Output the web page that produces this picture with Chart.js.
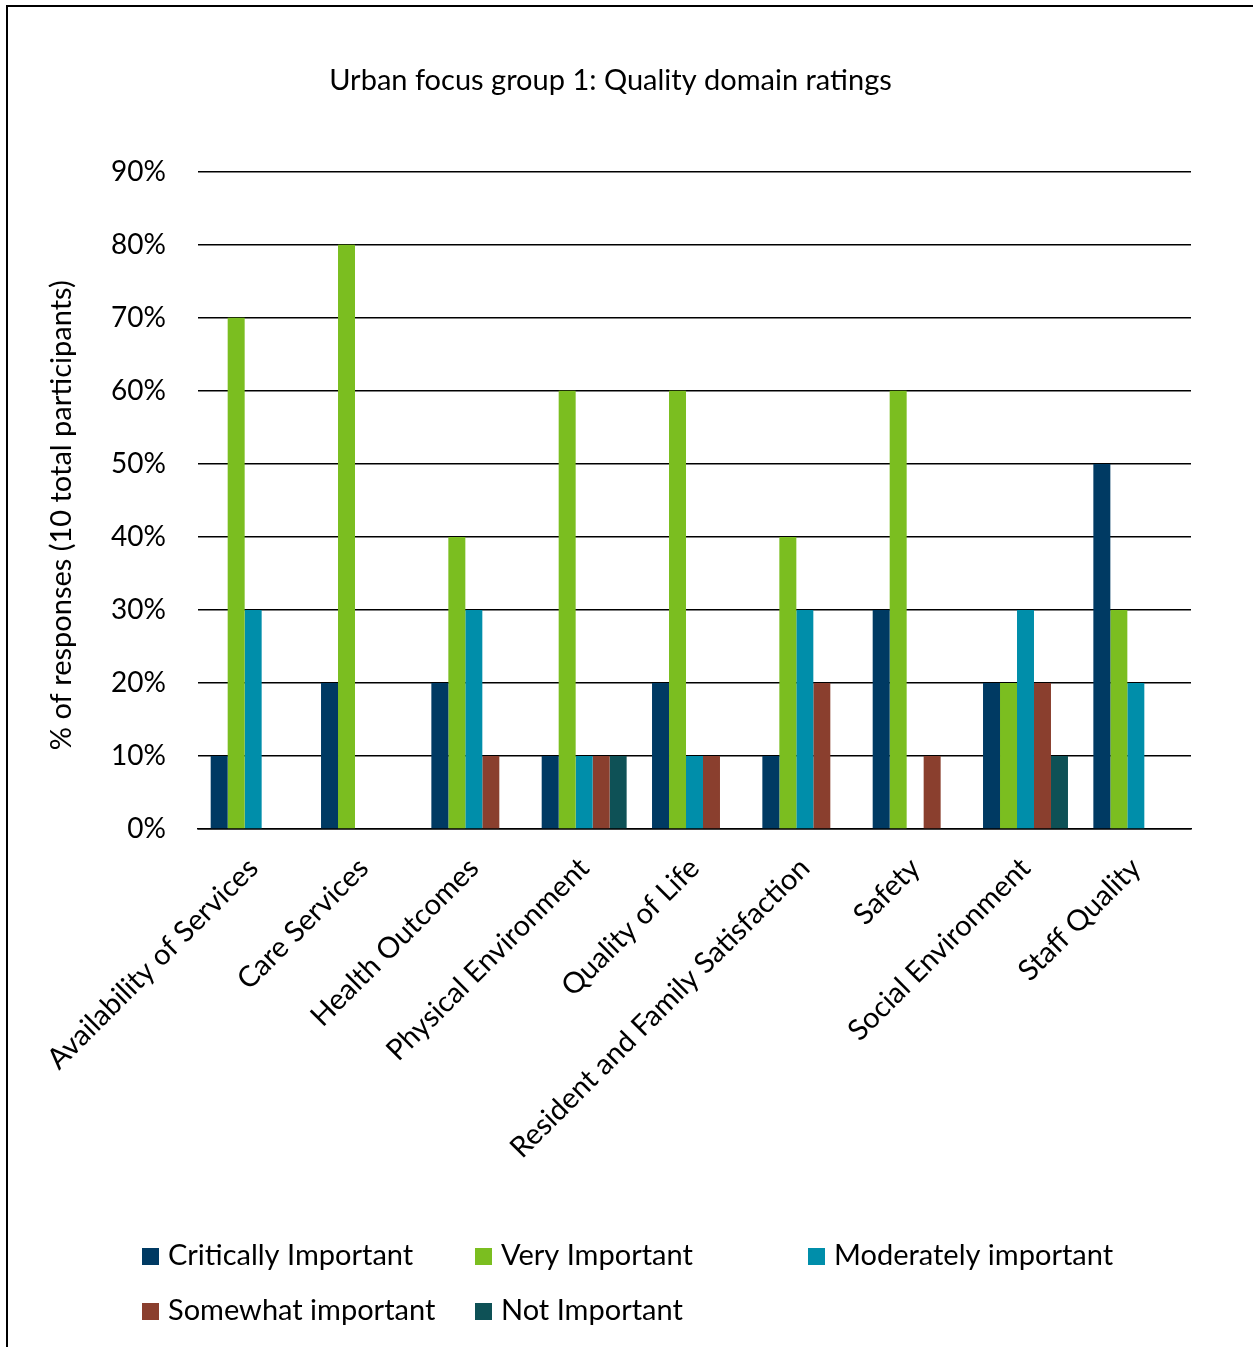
<!DOCTYPE html>
<html>
<head>
<meta charset="utf-8">
<script src="https://cdn.jsdelivr.net/npm/chart.js@4.4.1/dist/chart.umd.min.js"></script>
<style>
    html, body { margin: 0; padding: 0; background: #fff; }
    #wrap { position: relative; width: 1253px; height: 1347px; }
    #frameTop { position: absolute; left: 6px; top: 5px; width: 1247px; height: 2px; background: #000; }
    #frameLeft { position: absolute; left: 6px; top: 5px; width: 2px; height: 1342px; background: #000; }
    canvas { position: absolute; left: 0; top: 0; }
</style>
</head>
<body>
<div id="wrap">
    <canvas id="qualityChart" width="1253" height="1347"></canvas>
    <div id="frameTop"></div>
    <div id="frameLeft"></div>
</div>
<script>
// Dados
const domains = ['Availability of Services', 'Care Services', 'Health Outcomes', 'Physical Environment',
    'Quality of Life', 'Resident and Family Satisfaction', 'Safety', 'Social Environment', 'Staff Quality'];
const critically = [10, 20, 20, 10, 20, 10, 30, 20, 50];
const veryImportant = [70, 80, 40, 60, 60, 40, 60, 20, 30];
const moderately = [30, 0, 30, 10, 10, 30, 0, 30, 20];
const somewhat = [0, 0, 10, 10, 10, 20, 10, 20, 0];
const notImportant = [0, 0, 0, 10, 0, 0, 0, 10, 0];
const yTicks = [0, 10, 20, 30, 40, 50, 60, 70, 80, 90];

const FONT = "Lato, 'Open Sans', sans-serif";

// Legenda em grade fixa (3 colunas)
const legendGrid = {
    id: 'legendGrid',
    afterDraw(chart) {
        const ctx = chart.ctx;
        const cols = [142, 475, 808];
        const rows = [1256, 1311];
        ctx.save();
        ctx.font = '29px ' + FONT;
        ctx.textBaseline = 'middle';
        chart.data.datasets.forEach((ds, i) => {
            const x = cols[i % 3];
            const y = rows[Math.floor(i / 3)];
            ctx.fillStyle = ds.backgroundColor;
            ctx.fillRect(x, y - 8, 17, 17);
            ctx.fillStyle = '#000';
            ctx.fillText(ds.label, x + 26, y);
        });
        ctx.restore();
    }
};

const ds = (label, data, color) => ({
    label, data, backgroundColor: color, borderWidth: 0,
    categoryPercentage: 0.77, barPercentage: 1.0
});

new Chart(document.getElementById('qualityChart'), {
    type: 'bar',
    data: {
        labels: domains,
        datasets: [
            ds('Critically Important', critically, '#003A63'),
            ds('Very Important', veryImportant, '#7BBE20'),
            ds('Moderately important', moderately, '#008EAA'),
            ds('Somewhat important', somewhat, '#8A3F2E'),
            ds('Not Important', notImportant, '#0E5156')
        ]
    },
    options: {
        responsive: false,
        animation: false,
        layout: { padding: { top: 6, left: 30, right: 62, bottom: 0 } },
        plugins: {
            legend: { display: false },
            tooltip: { enabled: false },
            title: {
                display: true,
                text: 'Urban focus group 1: Quality domain ratings',
                color: '#000',
                font: { family: FONT, size: 29, weight: 'normal' },
                padding: { top: 57, bottom: 74 }
            }
        },
        scales: {
            x: {
                grid: { display: false, drawTicks: false },
                border: { display: true, color: '#000', width: 1.5 },
                ticks: {
                    color: '#000', font: { family: FONT, size: 29 },
                    minRotation: 45, maxRotation: 45, padding: 22, autoSkip: false
                },
                afterFit(scale) { scale.height = 518; }
            },
            y: {
                min: 0, max: 90,
                afterBuildTicks(scale) { scale.ticks = yTicks.map(v => ({ value: v })); },
                grid: { color: '#000', lineWidth: 1.5, drawTicks: false },
                border: { display: false },
                ticks: {
                    color: '#000', font: { family: FONT, size: 28 }, padding: 32,
                    callback: v => v + '%'
                },
                title: {
                    display: true,
                    // espaços finais deslocam o título um pouco para baixo
                    text: '% of responses (10 total participants)    ',
                    color: '#000',
                    font: { family: FONT, size: 29 },
                    padding: { top: 14, bottom: 0 }
                },
                afterFit(scale) { scale.width = 168; }
            }
        }
    },
    plugins: [legendGrid]
});
</script>
</body>
</html>
